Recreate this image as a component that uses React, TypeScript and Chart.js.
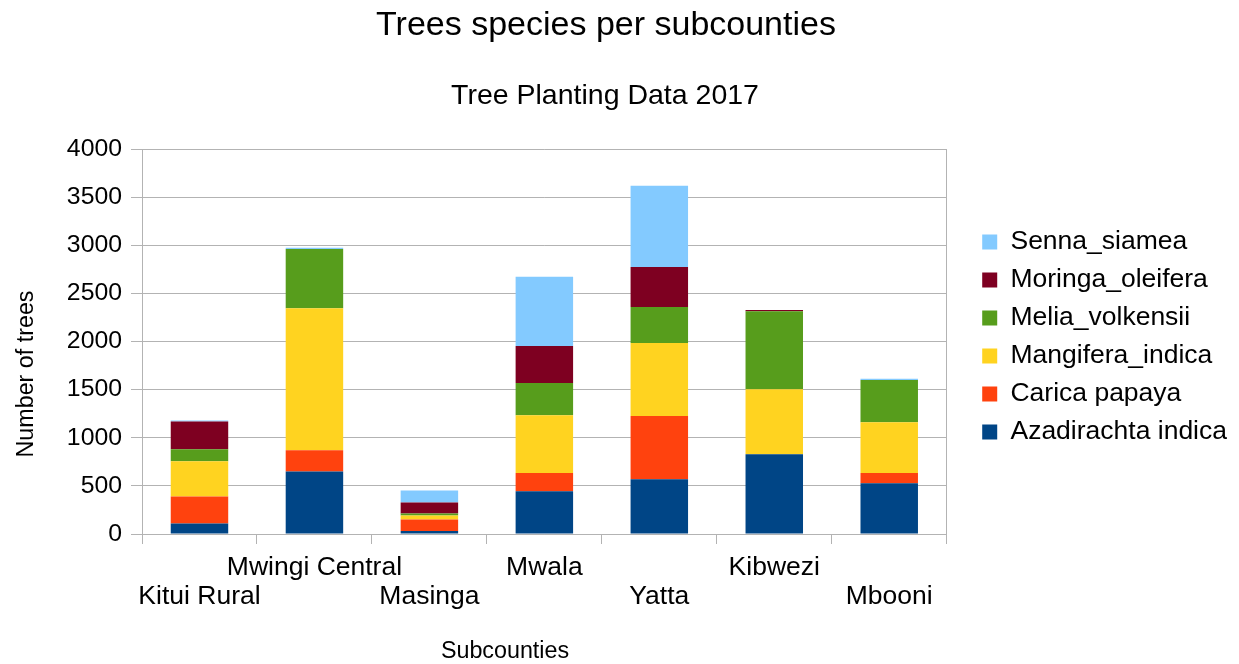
import React, { useEffect, useRef } from "react";
import { Chart, registerables } from "chart.js";

Chart.register(...registerables);

const FONT = "'Liberation Sans', Arial, sans-serif";

const TITLE = "Trees species per subcounties";
const SUBTITLE = "Tree Planting Data 2017";
const X_TITLE = "Subcounties";
const Y_TITLE = "Number of trees";

const SUBCOUNTIES = ["Kitui Rural", "Mwingi Central", "Masinga", "Mwala", "Yatta", "Kibwezi", "Mbooni"];

const AZADIRACHTA_INDICA = [110, 650, 30, 445, 570, 828, 527];
const CARICA_PAPAYA = [280, 220, 120, 190, 655, 0, 107];
const MANGIFERA_INDICA = [365, 1475, 42, 600, 760, 676, 527];
const MELIA_VOLKENSII = [125, 615, 20, 333, 374, 811, 440];
const MORINGA_OLEIFERA = [290, 0, 115, 385, 416, 11, 0];
const SENNA_SIAMEA = [10, 15, 125, 720, 842, 0, 11];

const Y_MIN = 0;
const Y_MAX = 4000;
const Y_STEP = 500;

const GRID = "#b3b3b3";

// Titles drawn on the canvas, placed the way the office suite lays them out
const chartTexts = {
  id: "chartTexts",
  afterDraw(chart: Chart) {
    const { ctx } = chart;
    ctx.save();
    ctx.fillStyle = "#000";
    ctx.textAlign = "center";
    ctx.textBaseline = "alphabetic";

    ctx.font = `34px ${FONT}`;
    ctx.fillText(TITLE, 606, 35);

    ctx.font = `28.5px ${FONT}`;
    ctx.fillText(SUBTITLE, 605, 104);

    ctx.font = `23.3px ${FONT}`;
    ctx.fillText(X_TITLE, 505, 658);

    ctx.translate(33, 374);
    ctx.rotate(-Math.PI / 2);
    ctx.fillText(Y_TITLE, 0, 0);
    ctx.restore();
  },
};

export default function App() {
  const canvasRef = useRef<HTMLCanvasElement | null>(null);

  useEffect(() => {
    const canvas = canvasRef.current;
    if (!canvas) return;

    const series = [
      { label: "Azadirachta indica", data: AZADIRACHTA_INDICA, color: "#004586" },
      { label: "Carica papaya", data: CARICA_PAPAYA, color: "#ff420e" },
      { label: "Mangifera_indica", data: MANGIFERA_INDICA, color: "#ffd320" },
      { label: "Melia_volkensii", data: MELIA_VOLKENSII, color: "#579d1c" },
      { label: "Moringa_oleifera", data: MORINGA_OLEIFERA, color: "#7e0021" },
      { label: "Senna_siamea", data: SENNA_SIAMEA, color: "#83caff" },
    ];

    const chart = new Chart(canvas, {
      type: "bar",
      data: {
        labels: SUBCOUNTIES,
        datasets: series.map((s) => ({
          label: s.label,
          data: s.data,
          backgroundColor: s.color,
          borderWidth: 0,
          categoryPercentage: 0.5,
          barPercentage: 1,
        })),
      },
      options: {
        responsive: false,
        animation: false,
        layout: { padding: { top: 10, right: 2, bottom: 0, left: 0 } },
        plugins: {
          tooltip: { enabled: false },
          title: { display: false },
          legend: {
            position: "right",
            reverse: true,
            maxWidth: 320,
            labels: {
              boxWidth: 15,
              boxHeight: 15,
              padding: 11.5,
              color: "#000",
              font: { family: FONT, size: 26.5 },
            },
          },
        },
        scales: {
          x: {
            stacked: true,
            grid: {
              offset: true,
              drawOnChartArea: false,
              tickLength: 10,
              color: GRID,
            },
            border: { display: true, color: GRID },
            ticks: {
              autoSkip: false,
              maxRotation: 0,
              minRotation: 0,
              padding: 9,
              color: "#000",
              font: { family: FONT, size: 26.5, lineHeight: 1.11 },
              // alternate the subcounty names between two rows
              callback: (_value: any, index: number) =>
                index % 2 === 1 ? [SUBCOUNTIES[index], ""] : ["", SUBCOUNTIES[index]],
            },
            afterFit: (scale: any) => {
              scale.height = 130;
            },
          },
          y: {
            stacked: true,
            min: Y_MIN,
            max: Y_MAX,
            ticks: {
              stepSize: Y_STEP,
              padding: 9,
              color: "#000",
              font: { family: FONT, size: 24.8 },
              callback: (value: any) => String(value),
            },
            grid: { color: GRID, tickLength: 11 },
            border: { display: true, color: GRID },
            afterFit: (scale: any) => {
              scale.width = 142;
            },
          },
          // empty band above the plot that holds the titles
          titleBand: {
            type: "linear",
            position: "top",
            display: true,
            grid: { display: false },
            border: { display: false },
            ticks: { display: false },
            afterFit: (scale: any) => {
              scale.height = 139;
            },
          },
          // right-hand frame line of the plot area
          frameRight: {
            type: "linear",
            position: "right",
            display: true,
            grid: { display: false },
            border: { display: true, color: GRID },
            ticks: { display: false },
            afterFit: (scale: any) => {
              scale.width = 24;
            },
          },
        },
      },
      plugins: [chartTexts],
    });

    return () => chart.destroy();
  }, []);

  return (
    <div style={{ position: "fixed", left: 0, top: 0, width: 1239, height: 664, background: "#fff" }}>
      <canvas ref={canvasRef} width={1239} height={664} style={{ display: "block" }} />
    </div>
  );
}
